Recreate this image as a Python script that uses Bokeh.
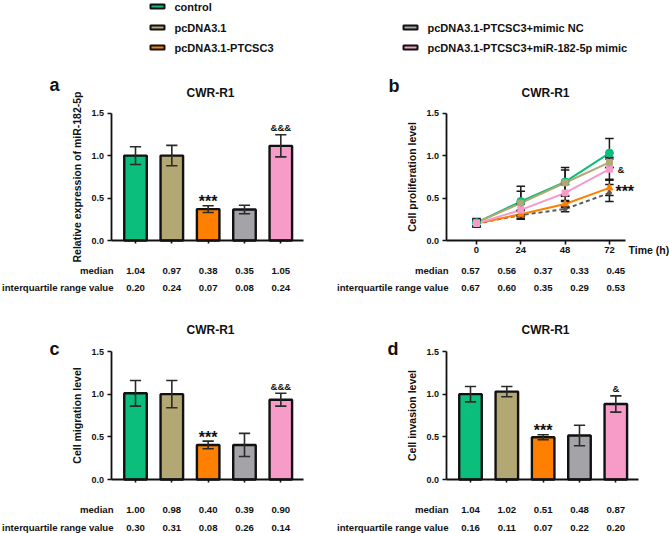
from bokeh.plotting import figure
from bokeh.layouts import column, row
from bokeh.models import Range1d, LinearAxis, FixedTicker, NumeralTickFormatter
from bokeh.core.properties import value
from bokeh.embed import file_html
from bokeh.resources import INLINE

FONT = "Liberation Sans"

# ---------------- data ----------------
groups = ["control", "pcDNA3.1", "pcDNA3.1-PTCSC3",
          "pcDNA3.1-PTCSC3+mimic NC", "pcDNA3.1-PTCSC3+miR-182-5p mimic"]
colors = ["#0BBE7B", "#B3A774", "#FF8000", "#A3A3A8", "#F79BC9"]

# (a) relative miR-182-5p expression
mir_mean = [1.00, 1.00, 0.37, 0.365, 1.115]
mir_err = [0.105, 0.12, 0.04, 0.05, 0.13]
mir_sig = ["", "", "***", "", "&&&"]
mir_median = ["1.04", "0.97", "0.38", "0.35", "1.05"]
mir_iqr = ["0.20", "0.24", "0.07", "0.08", "0.24"]

# (b) proliferation over time
times = [0, 24, 48, 72]
prolif_control = [0.21, 0.46, 0.69, 1.03]
prolif_control_err = [0.05, 0.18, 0.17, 0.17]
prolif_pcdna = [0.21, 0.44, 0.68, 0.92]
prolif_pcdna_err = [0.04, 0.14, 0.15, 0.06]
prolif_ptcsc3 = [0.20, 0.31, 0.43, 0.62]
prolif_ptcsc3_err = [0.03, 0.05, 0.04, 0.09]
prolif_nc = [0.20, 0.30, 0.37, 0.56]
prolif_nc_err = [0.03, 0.05, 0.03, 0.10]
prolif_mimic = [0.20, 0.36, 0.56, 0.84]
prolif_mimic_err = [0.04, 0.07, 0.10, 0.12]
prolif_median = ["0.57", "0.56", "0.37", "0.33", "0.45"]
prolif_iqr = ["0.67", "0.60", "0.35", "0.29", "0.53"]

# (c) migration
mig_mean = [1.01, 1.00, 0.405, 0.405, 0.935]
mig_err = [0.15, 0.16, 0.045, 0.135, 0.075]
mig_sig = ["", "", "***", "", "&&&"]
mig_median = ["1.00", "0.98", "0.40", "0.39", "0.90"]
mig_iqr = ["0.30", "0.31", "0.08", "0.26", "0.14"]

# (d) invasion
inv_mean = [1.00, 1.03, 0.495, 0.515, 0.885]
inv_err = [0.09, 0.06, 0.03, 0.12, 0.095]
inv_sig = ["", "", "***", "", "&"]
inv_median = ["1.04", "1.02", "0.51", "0.48", "0.87"]
inv_iqr = ["0.16", "0.11", "0.07", "0.22", "0.20"]

# ---------------- layout constants (pixels inside each panel) ----------------
COL0, COLSTEP = 135.0, 36.33      # table / bar column centres
AXIS_X = 110.5                     # y-axis position
AXIS_END = 303.0                   # right end of x-axis


def base_panel(W, H, zero_px, ppu, x_range):
    p = figure(width=W, height=H, x_range=x_range,
               y_range=Range1d(-(H - zero_px) / ppu, zero_px / ppu),
               min_border=0, toolbar_location=None, output_backend="svg",
               x_axis_location=None, y_axis_location=None)
    p.outline_line_color = None
    p.grid.visible = False
    p.background_fill_color = "white"
    p.border_fill_color = "white"
    p.extra_x_ranges = {"px": Range1d(0, W),
                        "cols": Range1d(-COL0 / COLSTEP, (W - COL0) / COLSTEP)}
    p.extra_y_ranges = {"px": Range1d(H, 0)}
    return p


def style_axis(ax, size="9px"):
    ax.axis_line_width = 1.8
    ax.axis_line_color = "#111111"
    ax.major_tick_line_width = 1.6
    ax.major_tick_line_color = "#111111"
    ax.minor_tick_line_color = None
    ax.major_tick_in = 0
    ax.major_tick_out = 4
    ax.major_label_text_font = FONT
    ax.major_label_text_font_style = "bold"
    ax.major_label_text_font_size = size
    ax.major_label_text_color = "#111111"


def add_y_axis(p, xloc, label):
    yax = LinearAxis(fixed_location=xloc, bounds=(0, 1.5),
                     ticker=FixedTicker(ticks=[0, 0.5, 1.0, 1.5]),
                     formatter=NumeralTickFormatter(format="0.0"))
    style_axis(yax)
    yax.major_label_standoff = 3
    yax.axis_label = label
    yax.axis_label_text_font = FONT
    yax.axis_label_text_font_style = "bold"
    yax.axis_label_text_font_size = "10.5px"
    yax.axis_label_text_color = "#111111"
    yax.axis_label_standoff = 6
    p.add_layout(yax, "left")


def add_text_blocks(p, letter, letter_xy, title_y, table_y, median, iqr):
    common = dict(x_range_name="px", y_range_name="px", text_font=value(FONT),
                  text_font_style="bold", text_color="#111111")
    p.text(x=[letter_xy[0]], y=[letter_xy[1]], text=[letter], text_font_size="18px",
           text_align="left", text_baseline="alphabetic", **common)
    p.text(x=[210], y=[title_y], text=["CWR-R1"], text_font_size="12px",
           text_align="center", text_baseline="middle", **common)
    p.text(x=[113, 113], y=table_y, text=["median", "interquartile range value"],
           text_font_size="9.6px", text_align="right", text_baseline="middle", **common)
    idx = list(range(len(median)))
    for vals, yy in zip((median, iqr), table_y):
        p.text(x=idx, y=[yy] * len(vals), text=vals, x_range_name="cols", y_range_name="px",
               text_font=value(FONT), text_font_style="bold", text_color="#111111",
               text_font_size="9.6px", text_align="center", text_baseline="middle")


def bar_panel(W, H, zero_px, ppu, means, errs, sig, label, letter, letter_xy,
              title_y, table_y, median, iqr):
    x_range = Range1d(-COL0 / COLSTEP, (W - COL0) / COLSTEP)
    p = base_panel(W, H, zero_px, ppu, x_range)
    idx = list(range(len(means)))
    axis_x = (AXIS_X - COL0) / COLSTEP
    xax = LinearAxis(fixed_location=0, bounds=(axis_x, (AXIS_END - COL0) / COLSTEP),
                     ticker=FixedTicker(ticks=idx))
    style_axis(xax)
    xax.major_tick_out = 3
    xax.major_label_text_color = None
    p.add_layout(xax, "below")
    add_y_axis(p, axis_x, label)

    p.vbar(x=idx, top=means, width=0.62, fill_color=colors,
           line_color="#111111", line_width=2.4)
    lo = [m - e for m, e in zip(means, errs)]
    hi = [m + e for m, e in zip(means, errs)]
    cap = 0.155
    ek = dict(line_color="#2a2a2a", line_width=1.6)
    p.segment(x0=idx, y0=lo, x1=idx, y1=hi, **ek)
    p.segment(x0=[i - cap for i in idx], y0=hi, x1=[i + cap for i in idx], y1=hi, **ek)
    p.segment(x0=[i - cap for i in idx], y0=lo, x1=[i + cap for i in idx], y1=lo, **ek)

    stars = [(i, h, s) for i, h, s in zip(idx, hi, sig) if s.startswith("*")]
    amps = [(i, h, s) for i, h, s in zip(idx, hi, sig) if s.startswith("&")]
    if stars:
        p.text(x=[a[0] for a in stars], y=[a[1] for a in stars], text=[a[2] for a in stars],
               text_font=value(FONT), text_font_style="bold", text_font_size="16px",
               text_color="#111111", text_align="center", text_baseline="alphabetic",
               y_offset=-4)
    if amps:
        p.text(x=[a[0] for a in amps], y=[a[1] for a in amps], text=[a[2] for a in amps],
               text_font=value(FONT), text_font_style="bold", text_font_size="9.5px",
               text_color="#111111", text_align="center", text_baseline="alphabetic",
               y_offset=-7)
    add_text_blocks(p, letter, letter_xy, title_y, table_y, median, iqr)
    return p


def line_panel(W, H, zero_px, ppu):
    t0_px, px_per_h = 141.0, 1.846
    x_range = Range1d(-t0_px / px_per_h, (W - t0_px) / px_per_h)
    p = base_panel(W, H, zero_px, ppu, x_range)
    axis_x = (AXIS_X - t0_px) / px_per_h
    xax = LinearAxis(fixed_location=0, bounds=(axis_x, (290 - t0_px) / px_per_h),
                     ticker=FixedTicker(ticks=times))
    style_axis(xax, "9.5px")
    xax.major_label_standoff = 2
    p.add_layout(xax, "below")
    add_y_axis(p, axis_x, "Cell proliferation level")

    series = [
        (prolif_control, prolif_control_err, colors[0], "circle", "solid", 8),
        (prolif_pcdna, prolif_pcdna_err, colors[1], "square", "solid", 6),
        (prolif_nc, prolif_nc_err, "#5a5a5a", "circle", "4 3", 4),
        (prolif_ptcsc3, prolif_ptcsc3_err, colors[2], "triangle", "solid", 7),
        (prolif_mimic, prolif_mimic_err, colors[4], "square", "solid", 6),
    ]
    cap = 2.3
    for ys, es, c, mk, dash, sz in series:
        p.line(times, ys, line_color=c, line_width=2, line_dash=dash)
    for ys, es, c, mk, dash, sz in series:
        lo = [y - e for y, e in zip(ys, es)]
        hi = [y + e for y, e in zip(ys, es)]
        ek = dict(line_color="#1a1a1a", line_width=1.5)
        p.segment(x0=times, y0=lo, x1=times, y1=hi, **ek)
        p.segment(x0=[t - cap for t in times], y0=hi, x1=[t + cap for t in times], y1=hi, **ek)
        p.segment(x0=[t - cap for t in times], y0=lo, x1=[t + cap for t in times], y1=lo, **ek)
    for ys, es, c, mk, dash, sz in series:
        p.scatter(times, ys, marker=mk, size=sz, fill_color=c, line_color=c)

    p.text(x=[times[-1]], y=[prolif_mimic[-1]], text=["&"], text_font=value(FONT),
           text_font_style="bold", text_font_size="9.5px", text_color="#111111",
           text_align="left", text_baseline="middle", x_offset=8)
    p.text(x=[times[-1]], y=[prolif_ptcsc3[-1]], text=["***"], text_font=value(FONT),
           text_font_style="bold", text_font_size="16px", text_color="#111111",
           text_align="left", text_baseline="middle", x_offset=6, y_offset=4)
    p.text(x=[293], y=[189], text=["Time (h)"], x_range_name="px", y_range_name="px",
           text_font=value(FONT), text_font_style="bold", text_font_size="10.5px",
           text_color="#111111", text_align="left", text_baseline="middle")
    add_text_blocks(p, "b", (53, 25), 32, [210, 227], prolif_median, prolif_iqr)
    return p


# ---------------- legend strip ----------------
leg = figure(width=669, height=60, x_range=Range1d(0, 669), y_range=Range1d(60, 0),
             min_border=0, toolbar_location=None, output_backend="svg",
             x_axis_location=None, y_axis_location=None)
leg.outline_line_color = None
leg.grid.visible = False
leg_x = [157, 157, 157, 410, 410]
leg_y = [6, 27, 47, 27, 47]
leg.rect(x=leg_x, y=leg_y, width=14, height=4, fill_color=colors,
         line_color="#111111", line_width=2)
leg.text(x=[x + 17 for x in leg_x], y=leg_y, text=groups, text_font=value(FONT),
         text_font_style="bold", text_font_size="11px", text_color="#111111",
         text_align="left", text_baseline="middle")

# ---------------- panels ----------------
pa = bar_panel(335, 237, 180.0, 84.9, mir_mean, mir_err, mir_sig,
               "Relative expression of miR-182-5p", "a", (49, 24), 32, [210, 227],
               mir_median, mir_iqr)
pb = line_panel(334, 237, 180.0, 84.9)
pc = bar_panel(335, 236, 182.0, 85.33, mig_mean, mig_err, mig_sig,
               "Cell migration level", "c", (49, 51), 32, [212, 230], mig_median, mig_iqr)
pd = bar_panel(334, 236, 182.0, 85.33, inv_mean, inv_err, inv_sig,
               "Cell invasion level", "d", (52, 51), 32, [212, 230], inv_median, inv_iqr)

layout = column(leg, row(pa, pb), row(pc, pd))

with open("out.html", "w") as f:
    f.write(file_html(layout, INLINE))
